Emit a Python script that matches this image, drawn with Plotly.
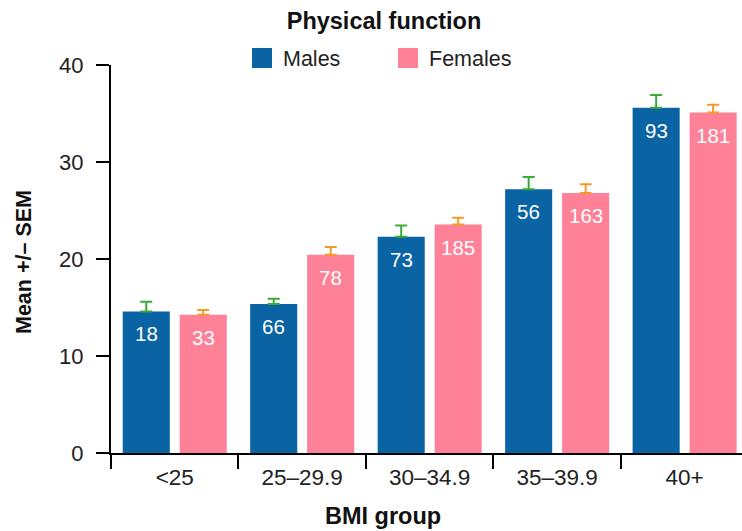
import plotly.graph_objects as go

categories = ["<25", "25–29.9", "30–34.9", "35–39.9", "40+"]
males_mean = [14.6, 15.35, 22.3, 27.2, 35.6]
males_sem = [1.0, 0.55, 1.15, 1.25, 1.3]
males_n = [18, 66, 73, 56, 93]
females_mean = [14.25, 20.45, 23.55, 26.8, 35.1]
females_sem = [0.5, 0.8, 0.7, 0.9, 0.8]
females_n = [33, 78, 185, 163, 181]

BLUE = "#0a63a3"
PINK = "#fe8198"
GREEN = "#3aa93a"
ORANGE = "#f39a2a"
FONT = "Arial, Liberation Sans, sans-serif"

W, H = 742, 531
ML, MR, MT, MB = 111, 0, 65, 78
PW, PH = W - ML - MR, H - MT - MB

fig = go.Figure()
fig.add_bar(x=categories, y=males_mean, name="Males", marker_color=BLUE,
            marker_line_width=0, showlegend=False,
            error_y=dict(type="data", array=males_sem, arrayminus=[0]*len(males_sem),
                         symmetric=False, color=GREEN, thickness=2, width=6))
fig.add_bar(x=categories, y=females_mean, name="Females", marker_color=PINK,
            marker_line_width=0, showlegend=False,
            error_y=dict(type="data", array=females_sem, arrayminus=[0]*len(females_sem),
                         symmetric=False, color=ORANGE, thickness=2, width=6))

bargap = 0.106
off = (1 - bargap) / 4
annotations = []
for i, (v, n) in enumerate(zip(males_mean, males_n)):
    annotations.append(dict(x=i - off, y=v, xref="x", yref="y", text=str(n), showarrow=False,
                            yanchor="top", yshift=-9, font=dict(size=20.5, color="white", family=FONT)))
for i, (v, n) in enumerate(zip(females_mean, females_n)):
    annotations.append(dict(x=i + off, y=v, xref="x", yref="y", text=str(n), showarrow=False,
                            yanchor="top", yshift=-9, font=dict(size=20.5, color="white", family=FONT)))

def px(xp):
    return (xp - ML) / PW

def py(yp):
    return (H - MB - yp) / PH

# legend (manual)
shapes = [
    dict(type="rect", xref="paper", yref="paper", x0=px(252), x1=px(272), y0=py(68), y1=py(48),
         fillcolor=BLUE, line_width=0),
    dict(type="rect", xref="paper", yref="paper", x0=px(398), x1=px(418), y0=py(68), y1=py(48),
         fillcolor=PINK, line_width=0),
]
annotations.append(dict(x=px(281), y=py(59), xref="paper", yref="paper", text="Males",
                        showarrow=False, xanchor="left", yanchor="middle",
                        font=dict(size=21.5, color="#222", family=FONT)))
annotations.append(dict(x=px(427), y=py(59), xref="paper", yref="paper", text="Females",
                        showarrow=False, xanchor="left", yanchor="middle",
                        font=dict(size=21.5, color="#222", family=FONT)))
# x-axis title
annotations.append(dict(x=px(383), y=py(516), xref="paper", yref="paper", text="<b>BMI group</b>",
                        showarrow=False, xanchor="center", yanchor="middle",
                        font=dict(size=23.5, color="#111", family=FONT)))
# y-axis title
annotations.append(dict(x=px(24), y=py(262), xref="paper", yref="paper", text="<b>Mean +/– SEM</b>",
                        showarrow=False, xanchor="center", yanchor="middle", textangle=-90,
                        font=dict(size=21.5, color="#111", family=FONT)))

fig.update_layout(
    width=W, height=H,
    margin=dict(l=ML, r=MR, t=MT, b=MB),
    paper_bgcolor="white", plot_bgcolor="white",
    barmode="group", bargap=bargap, bargroupgap=0.174,
    title=dict(text="<b>Physical function</b>", x=384 / W, xanchor="center",
               y=1 - 21 / H, yanchor="middle", font=dict(size=23.5, color="#111", family=FONT)),
    font=dict(family=FONT, color="#222"),
    shapes=shapes, annotations=annotations,
    xaxis=dict(type="category", range=[-0.5, 4.45], showline=True, linecolor="black", linewidth=2,
               ticks="outside", tickson="boundaries", ticklen=14, tickwidth=2, tickcolor="black",
               ticklabelstandoff=3,
               tickfont=dict(size=22.5, color="#222"), showgrid=False, zeroline=False),
    yaxis=dict(range=[0, 40], tickvals=[0, 10, 20, 30, 40], showline=True, linecolor="black",
               linewidth=2, ticks="outside", ticklen=13, tickwidth=2, tickcolor="black",
               ticklabelstandoff=8,
               tickfont=dict(size=22, color="#222"), showgrid=False, zeroline=False),
)

fig.write_html("out.html")
